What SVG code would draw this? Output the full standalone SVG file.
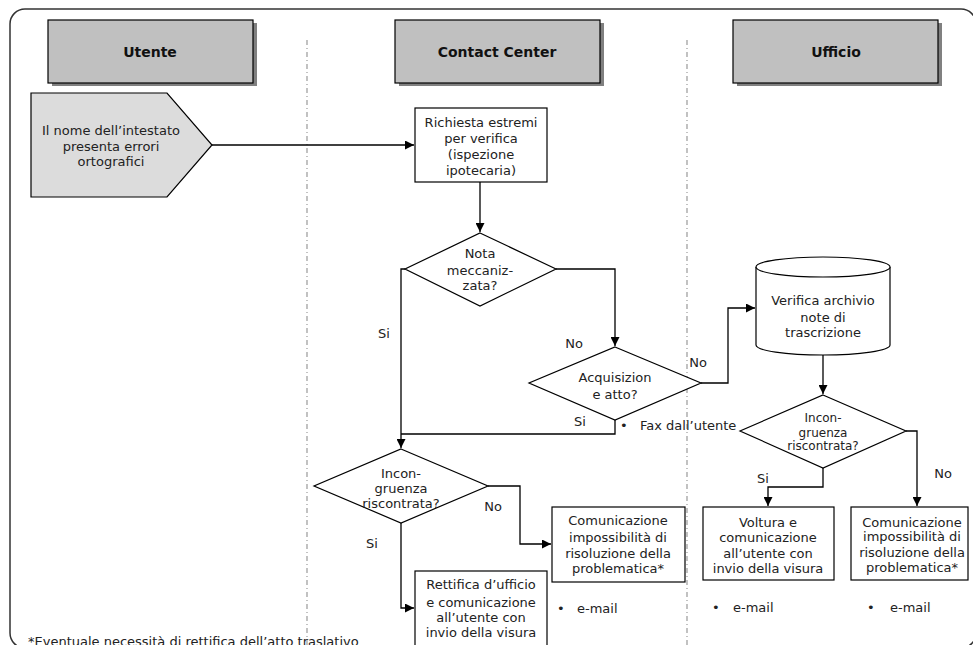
<svg xmlns="http://www.w3.org/2000/svg" width="973" height="645" viewBox="0 0 973 645">
<defs>
<marker id="ah" markerUnits="userSpaceOnUse" markerWidth="9" markerHeight="9" refX="9" refY="4.5" orient="auto">
<path d="M0,0 L9,4.5 L0,9 Z" fill="#000"/>
</marker>
<style>
text{font-family:"DejaVu Sans","Liberation Sans",sans-serif;font-size:13px;fill:#222}
.c{text-anchor:middle}
.hd{font-weight:bold;font-size:14px;fill:#111}
.sm{font-size:12px}
.box{fill:#fff;stroke:#000;stroke-width:1.2}
.hbox{fill:#c0c0c0;stroke:#000;stroke-width:1.2}
.sh{fill:#808080}
.lane{stroke:#999;stroke-width:1.2;stroke-dasharray:5 3 1 3;fill:none}
.cn{fill:none;stroke:#000;stroke-width:1.3}
.ar{marker-end:url(#ah)}
</style>
</defs>
<rect x="10" y="9" width="966" height="639" rx="15" fill="none" stroke="#333" stroke-width="1.5"/>
<g id="lanes">
<line class="lane" x1="307" y1="40" x2="307" y2="645"/>
<line class="lane" x1="687" y1="40" x2="687" y2="645"/>
</g>
<g id="hdr-utente">
<rect class="sh" x="52" y="23" width="205" height="63"/>
<rect class="hbox" x="48" y="20" width="205" height="63"/>
<text class="hd c" x="150" y="57">Utente</text>
</g>
<g id="hdr-cc">
<rect class="sh" x="399" y="23" width="205" height="63"/>
<rect class="hbox" x="395" y="20" width="205" height="63"/>
<text class="hd c" x="497" y="57">Contact Center</text>
</g>
<g id="hdr-ufficio">
<rect class="sh" x="737" y="23" width="205" height="63"/>
<rect class="hbox" x="733" y="20" width="205" height="63"/>
<text class="hd c" x="836" y="57">Ufficio</text>
</g>
<g id="connectors">
<path class="cn ar" d="M212,145 H414"/>
<path class="cn ar" d="M480,182 V232"/>
<path class="cn ar" d="M556,269 H615 V346"/>
<path class="cn ar" d="M405,269 H401 V448"/>
<path class="cn" d="M615,420 V434 H401"/>
<path class="cn ar" d="M701,383 H728 V308 H755"/>
<path class="cn ar" d="M823,355 V394"/>
<path class="cn ar" d="M906,431 H917 V506"/>
<path class="cn ar" d="M823,468 V487 H768 V506"/>
<path class="cn ar" d="M488,486 H520 V544 H551"/>
<path class="cn ar" d="M401,523 V608 H414"/>
<text class="c" x="384" y="338">Si</text>
<text class="c" x="574" y="348">No</text>
<text class="c" x="580" y="426">Si</text>
<text class="c" x="698" y="367">No</text>
<text class="c" x="493" y="511">No</text>
<text class="c" x="372" y="548">Si</text>
<text class="c" x="763" y="483">Si</text>
<text class="c" x="943" y="478">No</text>
</g>
<g id="n-start">
<path d="M31,93 H167 L212,145 L167,197 H31 Z" fill="#dcdcdc" stroke="#000" stroke-width="1.2"/>
<text class="c" x="111" y="135">Il nome dell’intestato</text>
<text class="c" x="111" y="151">presenta errori</text>
<text class="c" x="111" y="166">ortografici</text>
</g>
<g id="n-richiesta">
<rect class="box" x="415" y="108" width="132" height="74"/>
<text class="c" x="481" y="127">Richiesta estremi</text>
<text class="c" x="481" y="143">per verifica</text>
<text class="c" x="481" y="159">(ispezione</text>
<text class="c" x="481" y="175">ipotecaria)</text>
</g>
<g id="n-nota">
<path class="box" d="M480,233 L556,269 L480,306 L405,269 Z"/>
<text class="c" x="480" y="258">Nota</text>
<text class="c" x="480" y="275">meccaniz-</text>
<text class="c" x="480" y="290">zata?</text>
</g>
<g id="n-acq">
<path class="box" d="M615,347 L701,383 L615,420 L529,383 Z"/>
<text class="c" x="615" y="382">Acquisizion</text>
<text class="c" x="615" y="399">e atto?</text>
</g>
<g id="n-fax">
<text x="620" y="430">•</text>
<text x="640" y="430">Fax dall’utente</text>
</g>
<g id="n-incon-cc">
<path class="box" d="M401,449 L488,486 L401,523 L314,486 Z"/>
<text class="c" x="401" y="478">Incon-</text>
<text class="c" x="401" y="493">gruenza</text>
<text class="c" x="401" y="508">riscontrata?</text>
</g>
<g id="n-com-cc">
<rect class="box" x="552" y="507" width="133" height="75"/>
<text class="c" x="618" y="525">Comunicazione</text>
<text class="c" x="618" y="542">impossibilità di</text>
<text class="c" x="618" y="558">risoluzione della</text>
<text class="c" x="618" y="573">problematica*</text>
<text x="557" y="613">•</text>
<text x="577" y="613">e-mail</text>
</g>
<g id="n-rettifica">
<rect class="box" x="415" y="571" width="132" height="80"/>
<text class="c" x="481" y="589">Rettifica d’ufficio</text>
<text class="c" x="481" y="607">e comunicazione</text>
<text class="c" x="481" y="622">all’utente con</text>
<text class="c" x="481" y="637">invio della visura</text>
</g>
<g id="n-archivio">
<path class="box" d="M756,267 V345 A67,10 0 0 0 890,345 V267 A67,10 0 0 0 756,267 Z"/>
<path class="box" d="M756,267 A67,10 0 0 0 890,267" fill="none"/>
<text class="c" x="823" y="305">Verifica archivio</text>
<text class="c" x="823" y="322">note di</text>
<text class="c" x="823" y="337">trascrizione</text>
</g>
<g id="n-incon-uff">
<path class="box" d="M823,395 L906,431 L823,468 L740,431 Z"/>
<text class="c sm" x="823" y="422">Incon-</text>
<text class="c sm" x="823" y="437">gruenza</text>
<text class="c sm" x="823" y="450">riscontrata?</text>
</g>
<g id="n-voltura">
<rect class="box" x="703" y="507" width="131" height="73"/>
<text class="c" x="768" y="527">Voltura e</text>
<text class="c" x="768" y="542">comunicazione</text>
<text class="c" x="768" y="558">all’utente con</text>
<text class="c" x="768" y="573">invio della visura</text>
<text x="712" y="612">•</text>
<text x="733" y="612">e-mail</text>
</g>
<g id="n-com-uff">
<rect class="box" x="851" y="507" width="117" height="73"/>
<text class="c" x="912" y="527">Comunicazione</text>
<text class="c" x="912" y="541">impossibilità di</text>
<text class="c" x="912" y="557">risoluzione della</text>
<text class="c" x="912" y="572">problematica*</text>
<text x="867" y="612">•</text>
<text x="890" y="612">e-mail</text>
</g>
<text x="28" y="646">*Eventuale necessità di rettifica dell’atto traslativo</text>
</svg>
